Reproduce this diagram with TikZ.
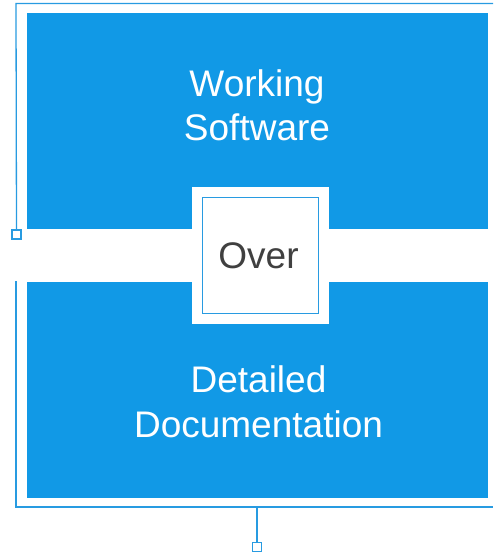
\documentclass[tikz,border=0pt]{standalone}
\usepackage{fontspec}
\setmainfont{Liberation Sans}
\definecolor{panelblue}{RGB}{17,153,230}
\definecolor{lineblue}{RGB}{40,155,225}
\definecolor{overgray}{RGB}{64,64,64}
\begin{document}
\begin{tikzpicture}[x=1pt,y=-1pt,
  panel/.style={fill=panelblue,draw=none},
  frameline/.style={draw=lineblue,line width=1.3pt},
  marker/.style={draw=lineblue,line width=1.3pt,fill=white,minimum size=9pt,inner sep=0pt,outer sep=0pt},
  bigtext/.style={font=\fontsize{37}{44.5}\selectfont,align=center,inner sep=0pt}]
\useasboundingbox (0,0) rectangle (493,556);
% outer bracket frame
\coordinate (tl) at (16,3.5);
\coordinate (tr) at (493,3.5);
\coordinate (bl) at (16,507);
\coordinate (br) at (493,507);
\coordinate (lgap) at (16,281);
\node[marker] (mleft) at (16.5,234.5) {};
\node[marker] (mbot) at (257,547) {};
\coordinate (bstem) at (257,507);
\draw[frameline] (tr) -- (tl) -- (mleft.north);
\draw[frameline] (lgap) -- (bl) -- (br);
\draw[frameline] (bstem) -- (mbot.north);
% panels
\fill[panel] (27,13) rectangle (488,229);
\fill[panel] (27,282) rectangle (488,498);
% central box
\fill[white] (192,187) rectangle (329,324);
\node[draw=lineblue,line width=0.9pt,fill=white,minimum width=116pt,minimum height=116pt,inner sep=0pt] (over) at (260,255) {};
\node[bigtext,text=overgray] (overtxt) at (258.5,256) {Over};
% captions
\node[bigtext,text=white] (top) at (257,105.5) {Working\\Software};
\node[bigtext,text=white] (bot) at (258.5,402) {Detailed\\Documentation};
\end{tikzpicture}
\end{document}
